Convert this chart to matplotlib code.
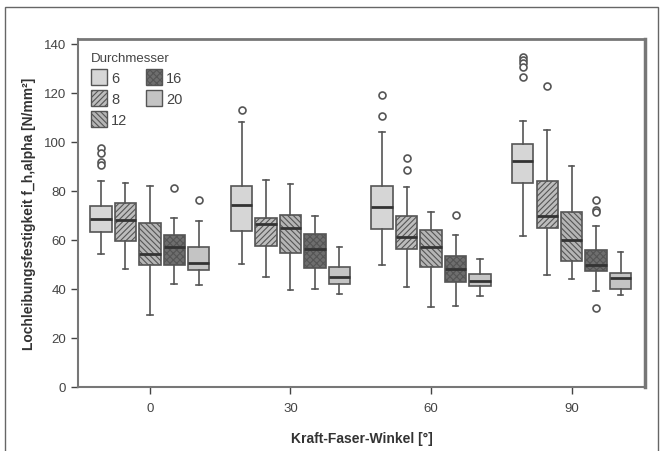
import matplotlib
matplotlib.use("Agg")
import matplotlib.pyplot as plt
from matplotlib.patches import Patch, Rectangle

plt.rcParams['font.family'] = ['Liberation Sans', 'DejaVu Sans']
plt.rcParams['hatch.linewidth'] = 0.8

angles = ["0", "30", "60", "90"]
diameters = ["6", "8", "12", "16", "20"]

# per angle, per diameter: (whislo, q1, med, q3, whishi)
stats_0 = [(54.3, 63.2, 68.6, 73.6, 83.8), (48.1, 59.4, 68.2, 75.2, 83.3),
           (29.1, 49.5, 54.2, 66.8, 82.0), (42.1, 49.5, 56.9, 61.8, 68.8),
           (41.7, 47.6, 50.5, 56.9, 67.5)]
stats_30 = [(50.3, 63.4, 74.0, 82.1, 107.9), (44.7, 57.3, 66.5, 68.8, 84.2),
            (39.7, 54.6, 64.8, 70.2, 82.8), (40.0, 48.5, 56.2, 62.5, 69.8),
            (37.7, 42.1, 44.7, 48.8, 57.0)]
stats_60 = [(49.9, 64.4, 73.3, 82.1, 103.8), (40.8, 56.2, 61.1, 69.5, 81.4),
            (32.7, 48.8, 57.1, 63.8, 71.3), (32.9, 42.7, 48.1, 53.3, 61.8),
            (37.0, 41.1, 43.1, 46.1, 52.3)]
stats_90 = [(61.7, 83.1, 92.2, 99.1, 108.6), (45.8, 65.0, 69.8, 84.0, 104.8),
            (43.8, 51.5, 60.0, 71.3, 89.9), (39.0, 47.2, 49.6, 56.0, 65.7),
            (37.3, 40.0, 44.5, 46.5, 54.9)]

fliers_0 = [[97.6, 95.3, 91.6, 90.3], [], [], [81.0], [76.3]]
fliers_30 = [[112.9], [], [], [], []]
fliers_60 = [[119.0, 110.4], [93.2, 88.5], [], [70.2], []]
fliers_90 = [[134.6, 133.3, 132.0, 130.6, 126.5], [122.6], [], [76.3, 72.2, 71.3, 32.3], []]

all_stats = [stats_0, stats_30, stats_60, stats_90]
all_fliers = [fliers_0, fliers_30, fliers_60, fliers_90]

faces = ['#d6d6d6', '#bdbdbd', '#b5b5b5', '#6e6e6e', '#c4c4c4']
hatches = ['', '//////', '\\\\\\\\\\\\', 'xxxxx', '']

fig = plt.figure(figsize=(6.62, 4.52), dpi=100)
ax = fig.add_axes([0.118, 0.142, 0.856, 0.770])

offsets = [-0.348, -0.174, 0.0, 0.174, 0.348]
edge = '#555555'
for gi, (sts, fls) in enumerate(zip(all_stats, all_fliers)):
    for di in range(5):
        lo, q1, med, q3, hi = sts[di]
        bx = [dict(whislo=lo, q1=q1, med=med, q3=q3, whishi=hi, fliers=fls[di])]
        ax.bxp(bx, positions=[gi + offsets[di]], widths=0.152, patch_artist=True,
               showfliers=True, capwidths=[0.04],
               boxprops=dict(facecolor=faces[di], edgecolor=edge, linewidth=1.2,
                             hatch=hatches[di]),
               medianprops=dict(color='#333333', linewidth=2.0),
               whiskerprops=dict(color=edge, linewidth=1.2),
               capprops=dict(color=edge, linewidth=1.2),
               flierprops=dict(marker='o', markersize=5, markerfacecolor='white',
                               markeredgecolor='#555555', markeredgewidth=1.2))

ax.set_xlim(-0.51, 3.52)
ax.set_ylim(0, 142)
ax.set_xticks(range(4))
ax.set_xticklabels(angles)
ax.set_yticks(range(0, 141, 20))
ax.tick_params(axis='both', labelsize=9.5, colors='#444444', length=5, width=1)
ax.tick_params(axis='x', pad=6)
for s in ax.spines.values():
    s.set_color('#777777')
    s.set_linewidth(1.5)
ax.spines['top'].set_linewidth(2)
ax.spines['right'].set_linewidth(2.5)

ax.set_xlabel('Kraft-Faser-Winkel [°]', fontsize=10, fontweight='bold', color='#333333', labelpad=12)
ax.set_ylabel('Lochleibungsfestigkeit f_h,alpha [N/mm²]', fontsize=10, fontweight='bold',
              color='#333333', labelpad=6)

handles = [Patch(facecolor=faces[i], edgecolor=edge, hatch=hatches[i], linewidth=1.0)
           for i in range(5)]
leg = ax.legend(handles, diameters, title='Durchmesser', ncol=2, loc='upper left',
                frameon=False, fontsize=10.5, title_fontsize=9.5, handlelength=1.1,
                handleheight=1.3, handletextpad=0.25, columnspacing=1.3,
                labelspacing=0.35, borderaxespad=0.5)
leg._legend_box.align = 'left'
for t in leg.get_texts():
    t.set_color('#444444')
leg.get_title().set_color('#444444')

fig.patches.append(Rectangle((0.008, -0.01), 0.986, 0.993, transform=fig.transFigure,
                             fill=False, edgecolor='#666666', linewidth=1.0))

fig.savefig('out.png', dpi=100)
